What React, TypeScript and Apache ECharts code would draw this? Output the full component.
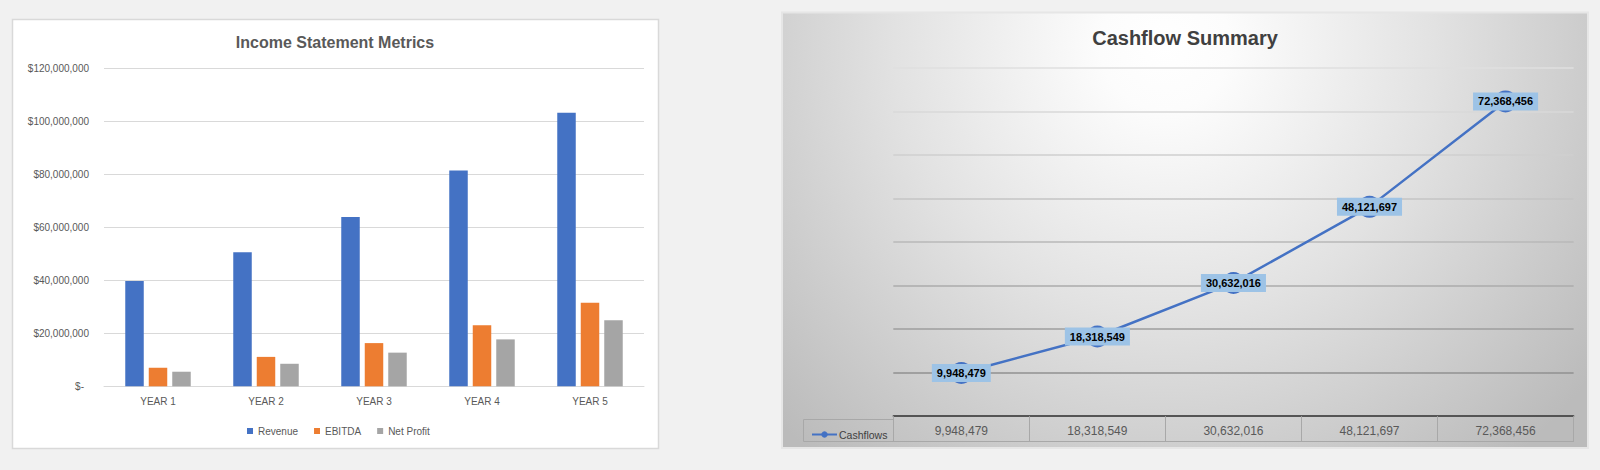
import React, { useEffect, useRef } from "react";
import * as echarts from "echarts";

// ---- Data ----
const years = ["YEAR 1", "YEAR 2", "YEAR 3", "YEAR 4", "YEAR 5"];
const revenue = [39700000, 50600000, 63900000, 81400000, 103200000];
const ebitda = [7000000, 11100000, 16300000, 23000000, 31500000];
const netProfit = [5500000, 8500000, 12700000, 17700000, 24900000];
const incomeAxis = { min: 0, max: 120000000, interval: 20000000 };

const cashflowPeriods = ["Year 1", "Year 2", "Year 3", "Year 4", "Year 5"];
const cashflows = [9948479, 18318549, 30632016, 48121697, 72368456];
const cashAxis = { min: 0, max: 80000000, interval: 10000000 };

const FONT = "'Liberation Sans', Arial, sans-serif";
const fmt = (n: number) => n.toLocaleString("en-US");

export default function App() {
  const ref = useRef<HTMLDivElement>(null);

  useEffect(() => {
    if (!ref.current) return;
    const chart = echarts.init(ref.current, undefined, { renderer: "svg" });

    const gridColors = [
      "#808080",
      "#909090",
      "#9e9e9e",
      "#ababab",
      "#b8b8b8",
      "#c4c4c4",
      "#cfcfcf",
      "#d8d8d8",
      "#dfdfdf",
    ];

    const option: any = {
      animation: false,
      backgroundColor: "#f1f1f1",
      textStyle: { fontFamily: FONT },
      graphic: [
        {
          type: "rect",
          z: -10,
          shape: { x: 12.5, y: 19.5, width: 646, height: 429 },
          style: { fill: "#ffffff", stroke: "#d9d9d9", lineWidth: 1.5 },
        },
        {
          type: "rect",
          z: -10,
          shape: { x: 782, y: 12.5, width: 806, height: 435.5 },
          style: {
            fill: new echarts.graphic.RadialGradient(
              1165,
              45,
              540,
              [
                { offset: 0, color: "#ffffff" },
                { offset: 0.12, color: "#fcfcfc" },
                { offset: 0.5, color: "#e2e2e2" },
                { offset: 1, color: "#bbbbbb" },
              ],
              true
            ),
            stroke: "#e6e6e6",
            lineWidth: 2,
          },
        },
        {
          type: "rect",
          z: -5,
          shape: { x: 803.5, y: 419.5, width: 90, height: 22 },
          style: { fill: "rgba(0,0,0,0)", stroke: "#a8a8a8", lineWidth: 1 },
        },
        {
          type: "text",
          x: 335,
          y: 42,
          style: {
            text: "Income Statement Metrics",
            textAlign: "center",
            textVerticalAlign: "middle",
            fontFamily: FONT,
            fontSize: 16,
            fontWeight: "bold",
            fill: "#595959",
          },
        },
        {
          type: "text",
          x: 1185,
          y: 38,
          style: {
            text: "Cashflow Summary",
            textAlign: "center",
            textVerticalAlign: "middle",
            fontFamily: FONT,
            fontSize: 20,
            fontWeight: "bold",
            fill: "#404040",
          },
        },
      ],
      legend: [
        {
          data: ["Revenue", "EBITDA", "Net Profit"],
          left: 242,
          top: 421,
          icon: "rect",
          itemWidth: 6,
          itemHeight: 6,
          itemGap: 16,
          textStyle: { color: "#595959", fontSize: 10, fontFamily: FONT },
        },
        {
          data: ["Cashflows"],
          left: 806,
          top: 424,
          itemWidth: 25,
          itemHeight: 8,
          itemGap: 4,
          textStyle: { color: "#404040", fontSize: 10.5, fontFamily: FONT, padding: [0, 0, 0, -3] },
        },
      ],
      grid: [
        { left: 104, right: 956, top: 68.3, bottom: 83.7, containLabel: false },
        { left: 893.3, right: 26.4, top: 68.2, bottom: 53.8, containLabel: false },
      ],
      xAxis: [
        {
          type: "category",
          gridIndex: 0,
          data: years,
          axisLine: { lineStyle: { color: "#d9d9d9", width: 1 } },
          axisTick: { show: false },
          axisLabel: { color: "#595959", fontSize: 10, margin: 10, fontFamily: FONT },
        },
        {
          type: "category",
          gridIndex: 1,
          data: cashflowPeriods,
          boundaryGap: true,
          axisLine: { lineStyle: { color: "#404040", width: 1.5 } },
          axisTick: {
            show: true,
            alignWithLabel: false,
            interval: 0,
            length: 25,
            lineStyle: { color: "#a8a8a8", width: 1 },
          },
          axisLabel: {
            interval: 0,
            margin: 9,
            color: "#595959",
            fontSize: 12,
            fontFamily: FONT,
            formatter: (_v: string, i: number) => fmt(cashflows[i]),
          },
        },
        {
          type: "category",
          gridIndex: 1,
          data: cashflowPeriods,
          position: "bottom",
          offset: 25,
          axisLine: { lineStyle: { color: "#a8a8a8", width: 1 } },
          axisTick: { show: false },
          axisLabel: { show: false },
        },
      ],
      yAxis: [
        {
          type: "value",
          gridIndex: 0,
          min: incomeAxis.min,
          max: incomeAxis.max,
          interval: incomeAxis.interval,
          axisLine: { show: false },
          axisTick: { show: false },
          splitLine: { lineStyle: { color: "#d9d9d9", width: 1 } },
          axisLabel: {
            margin: 15,
            color: "#595959",
            fontSize: 10,
            fontFamily: FONT,
            formatter: (v: number) => (v === 0 ? "{z|$-}" : "$" + fmt(v)),
            rich: {
              z: { color: "#595959", fontSize: 10, fontFamily: FONT, padding: [0, 5, 0, 0] },
            },
          },
        },
        {
          type: "value",
          gridIndex: 1,
          min: cashAxis.min,
          max: cashAxis.max,
          interval: cashAxis.interval,
          axisLine: { show: false },
          axisTick: { show: false },
          axisLabel: { show: false },
          splitLine: { lineStyle: { color: gridColors, width: 1.5 } },
        },
      ],
      series: [
        {
          name: "Revenue",
          type: "bar",
          xAxisIndex: 0,
          yAxisIndex: 0,
          data: revenue,
          barWidth: 18.5,
          barGap: "27%",
          itemStyle: { color: "#4472c4" },
        },
        {
          name: "EBITDA",
          type: "bar",
          xAxisIndex: 0,
          yAxisIndex: 0,
          data: ebitda,
          barWidth: 18.5,
          barGap: "27%",
          itemStyle: { color: "#ed7d31" },
        },
        {
          name: "Net Profit",
          type: "bar",
          xAxisIndex: 0,
          yAxisIndex: 0,
          data: netProfit,
          barWidth: 18.5,
          barGap: "27%",
          itemStyle: { color: "#a5a5a5" },
        },
        {
          name: "Cashflows",
          type: "line",
          xAxisIndex: 1,
          yAxisIndex: 1,
          data: cashflows,
          symbol: "circle",
          symbolSize: 22,
          lineStyle: { color: "#4472c4", width: 2.5 },
          itemStyle: { color: "#4472c4" },
          label: {
            show: true,
            position: "inside",
            formatter: (p: any) => fmt(p.value),
            color: "#000000",
            fontWeight: "bold",
            fontSize: 11,
            fontFamily: FONT,
            backgroundColor: "#9dc3e6",
            padding: [4, 5, 3, 5],
          },
        },
      ],
    };

    chart.setOption(option);
    return () => chart.dispose();
  }, []);

  return (
    <div
      ref={ref}
      style={{ position: "fixed", left: 0, top: 0, width: 1600, height: 470 }}
    />
  );
}
